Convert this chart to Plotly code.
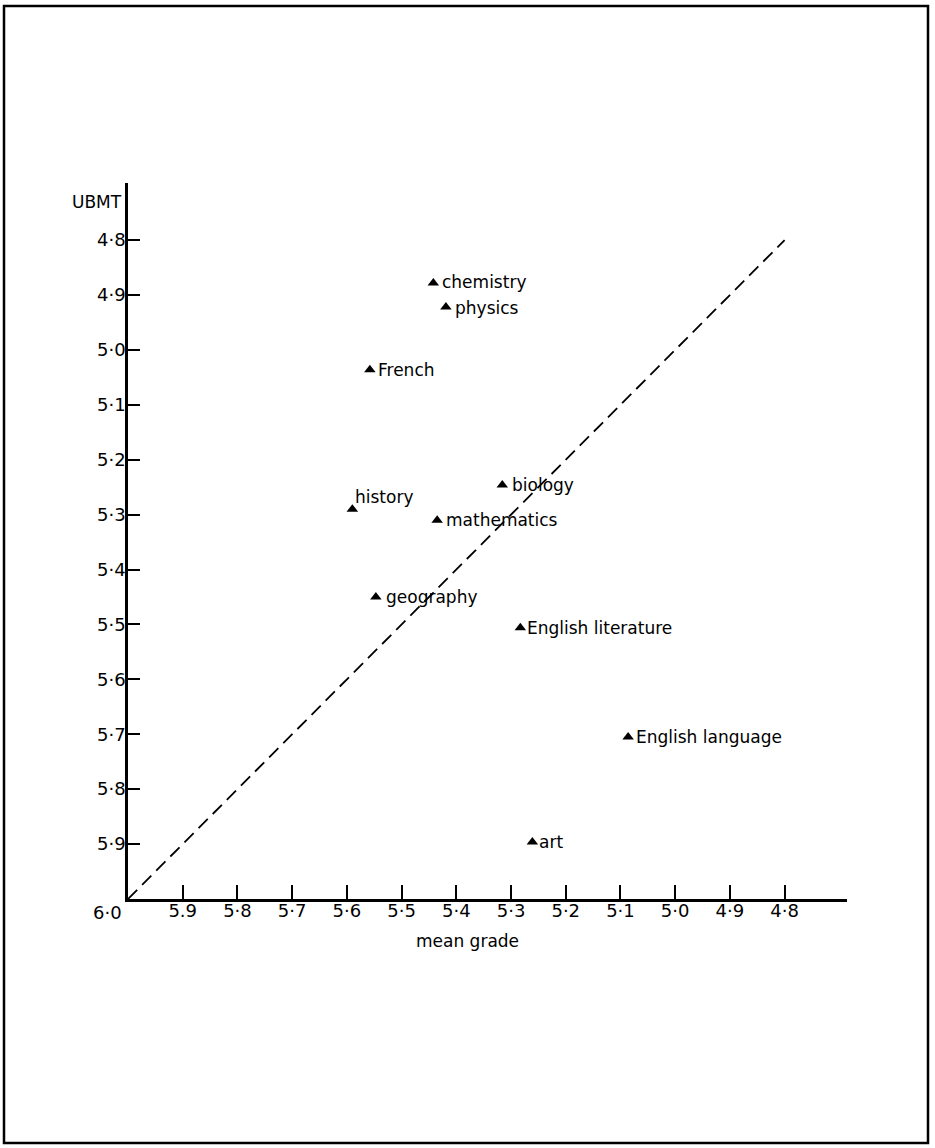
import plotly.graph_objects as go

subjects = ["chemistry", "physics", "French", "history", "biology", "mathematics",
            "geography", "English literature", "English language", "art"]
mean_grade = [5.442, 5.419, 5.558, 5.590, 5.316, 5.435, 5.547, 5.283, 5.086, 5.261]
ubmt = [4.878, 4.922, 5.036, 5.290, 5.246, 5.310, 5.450, 5.506, 5.705, 5.896]

x_ticks = [5.9, 5.8, 5.7, 5.6, 5.5, 5.4, 5.3, 5.2, 5.1, 5.0, 4.9, 4.8]
x_tick_labels = ["5.9", "5·8", "5·7", "5·6", "5·5", "5·4", "5·3", "5·2", "5·1", "5·0", "4·9", "4·8"]
y_ticks = [4.8, 4.9, 5.0, 5.1, 5.2, 5.3, 5.4, 5.5, 5.6, 5.7, 5.8, 5.9]
y_tick_labels = ["4·8", "4·9", "5·0", "5·1", "5·2", "5·3", "5·4", "5·5", "5·6", "5·7", "5·8", "5·9"]

diag_x = [6.0, 4.8]
diag_y = [6.0, 4.8]

# label offsets (pixels) relative to each marker: style only
label_dx = [7, 7, 6, 1, 8, 7, 8, 5, 6, 5]
label_dy = [1, -1, 0, 12, 0, 0, 0, 0, 0, 0]

FONT = "DejaVu Sans"
L, R, T, B = 128, 88, 183, 249
W, H = 935, 1148
PW, PH = W - L - R, H - T - B

fig = go.Figure()
fig.add_trace(go.Scatter(x=diag_x, y=diag_y, mode="lines",
                         line=dict(color="black", width=1.8, dash="13px,7px"),
                         hoverinfo="skip", showlegend=False))
fig.add_trace(go.Scatter(x=mean_grade, y=ubmt, mode="markers",
                         marker=dict(symbol="triangle-up", size=10, color="black"),
                         showlegend=False))

annotations = []
for name, xv, yv, dx, dy in zip(subjects, mean_grade, ubmt, label_dx, label_dy):
    annotations.append(dict(text=name, x=xv, y=yv, xref="x", yref="y",
                            xanchor="left", yanchor="middle", xshift=dx, yshift=dy,
                            showarrow=False, font=dict(family=FONT, size=17, color="black")))

annotations += [
    dict(text="UBMT", xref="paper", yref="paper", x=0, y=1.0, xshift=-4,
         xanchor="right", yanchor="middle", showarrow=False, font=dict(size=17), yshift=-19),
    dict(text="6·0", xref="paper", yref="paper", x=0, y=0, xshift=-4,
         xanchor="right", yanchor="middle", showarrow=False, font=dict(size=18), yshift=-13),
    dict(text="mean grade", xref="paper", yref="paper", x=(467 - L) / PW, y=0,
         xanchor="center", yanchor="middle", showarrow=False, font=dict(size=17), yshift=-42),
]

fig.update_layout(
    width=W, height=H,
    margin=dict(l=L, r=R, t=T, b=B),
    paper_bgcolor="white", plot_bgcolor="white",
    font=dict(family=FONT, size=17, color="black"),
    xaxis=dict(range=[6.0, 4.686], tickvals=x_ticks, ticktext=x_tick_labels,
               ticks="inside", ticklen=14, tickwidth=1.5, tickcolor="black",
               showline=True, linecolor="black", linewidth=2.5,
               showgrid=False, zeroline=False, tickfont=dict(size=18),
               ticklabelstandoff=-6),
    yaxis=dict(range=[6.0, 4.696], tickvals=y_ticks, ticktext=y_tick_labels,
               ticks="inside", ticklen=12, tickwidth=1.5, tickcolor="black",
               showline=True, linecolor="black", linewidth=2.5,
               showgrid=False, zeroline=False, tickfont=dict(size=18),
               ticklabelstandoff=-4),
    annotations=annotations,
)

# page frame of the scan
fig.add_shape(type="rect", xref="paper", yref="paper",
              x0=-(L - 4) / PW, x1=1 + (928 - (W - R)) / PW,
              y0=-(1143 - (H - B)) / PH, y1=1 + (T - 6) / PH,
              line=dict(color="black", width=2.5))

fig.write_html("out.html", config={"displayModeBar": False},
               post_script="document.body.style.margin='0';document.body.style.overflow='hidden';")
